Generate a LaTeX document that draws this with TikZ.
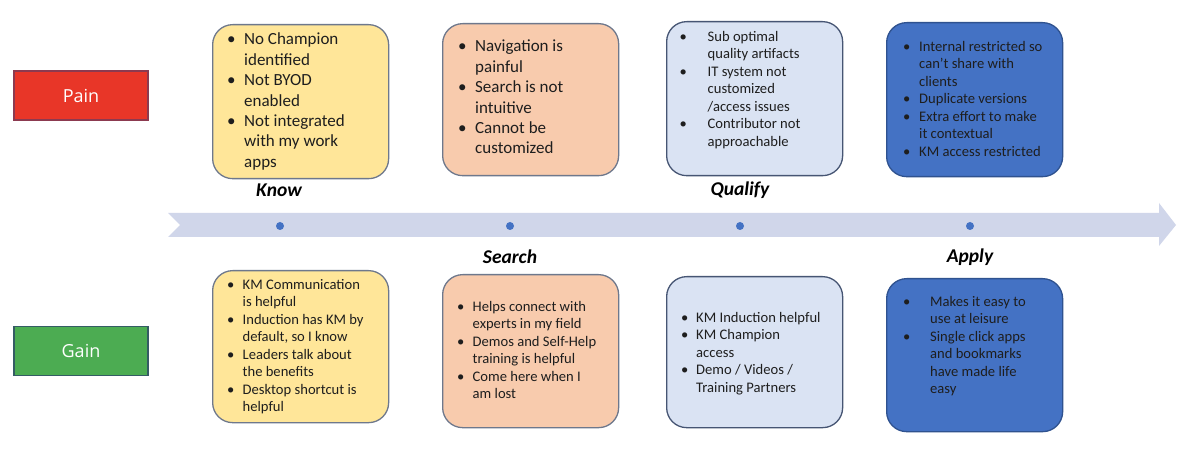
\documentclass[tikz,border=0pt]{standalone}
\usepackage{fontspec}
\setmainfont{Carlito}
\newfontfamily\lblfont{Open Sans}
\usepackage{array}
\definecolor{painred}{RGB}{232,54,40}
\definecolor{painedge}{RGB}{140,58,80}
\definecolor{gaingreen}{RGB}{76,172,82}
\definecolor{gainedge}{RGB}{52,92,100}
\definecolor{cyellow}{RGB}{255,230,153}
\definecolor{cpeach}{RGB}{248,203,173}
\definecolor{clblue}{RGB}{218,227,243}
\definecolor{cblue}{RGB}{68,114,196}
\definecolor{edgegrey}{RGB}{110,120,140}
\definecolor{edgedark}{RGB}{70,85,115}
\definecolor{edgeblue}{RGB}{47,82,143}
\definecolor{band}{RGB}{208,214,234}
\definecolor{dotblue}{RGB}{68,114,196}
\definecolor{txt}{RGB}{30,30,30}
\newcommand{\blist}[2]{\begin{tabular}[t]{@{}p{#1}@{}l@{}}#2\end{tabular}}
\newcommand{\bu}{\textbullet}
\tikzset{
  card/.style={rounded corners=20pt, line width=1.3pt, minimum width=176pt, anchor=north west, inner sep=0pt},
  tag/.style={minimum width=134pt, minimum height=49pt, line width=1.3pt, inner sep=0pt, text=white, font=\lblfont\fontsize{18}{20}\selectfont},
  big/.style={anchor=base west, inner sep=0pt, text=txt, font=\fontsize{17}{20.4}\selectfont},
  small/.style={anchor=base west, inner sep=0pt, text=txt, font=\fontsize{14.6}{17.5}\selectfont},
  stage/.style={inner sep=0pt, text=black, font=\fontsize{19.5}{22}\selectfont\bfseries\itshape},
  dot/.style={circle, fill=dotblue, minimum size=8pt, inner sep=0pt}
}
\begin{document}
\begin{tikzpicture}[x=1pt,y=-1pt]
\useasboundingbox (0,0) rectangle (1200,462);
\fill[white] (0,0) rectangle (1200,462);
% timeline arrow
\fill[band] (168,213) -- (1159,213) -- (1159,203) -- (1176,225) -- (1159,246) -- (1159,237) -- (168,237) -- (180,225) -- cycle;
\node[dot] (d1) at (280,226) {};
\node[dot] (d2) at (510,226) {};
\node[dot] (d3) at (740,226) {};
\node[dot] (d4) at (970,226) {};
% tags
\node[tag, fill=painred, draw=painedge] (pain) at (81,95.5) {Pain};
\node[tag, fill=gaingreen, draw=gainedge] (gain) at (81,351) {Gain};
% pain cards
\node[card, fill=cyellow, draw=edgegrey, minimum height=154pt] (p1) at (212,24) {};
\node[card, fill=cpeach, draw=edgegrey, minimum height=152pt] (p2) at (442,23) {};
\node[card, fill=clblue, draw=edgedark, minimum height=154pt] (p3) at (666,21) {};
\node[card, fill=cblue, draw=edgeblue, minimum height=154pt] (p4) at (886,22) {};
% gain cards
\node[card, fill=cyellow, draw=edgegrey, minimum height=152pt] (g1) at (212,270) {};
\node[card, fill=cpeach, draw=edgegrey, minimum height=153pt] (g2) at (442,274) {};
\node[card, fill=clblue, draw=edgedark, minimum height=151pt] (g3) at (666,276) {};
\node[card, fill=cblue, draw=edgeblue, minimum height=153pt] (g4) at (886,278) {};
% pain texts
\node[big] (tp1) at (227,45) {\blist{17pt}{\bu & No Champion\\ & identified\\ \bu & Not BYOD\\ & enabled\\ \bu & Not integrated\\ & with my work\\ & apps}};
\node[big] (tp2) at (458,52) {\blist{17pt}{\bu & Navigation is\\ & painful\\ \bu & Search is not\\ & intuitive\\ \bu & Cannot be\\ & customized}};
\node[small] (tp3) at (679.5,41.5) {\blist{28pt}{\bu & Sub optimal\\ & quality artifacts\\ \bu & IT system not\\ & customized\\ & /access issues\\ \bu & Contributor not\\ & approachable}};
\node[small] (tp4) at (903,51.5) {\blist{16pt}{\bu & Internal restricted so\\ & can't share with\\ & clients\\ \bu & Duplicate versions\\ \bu & Extra effort to make\\ & it contextual\\ \bu & KM access restricted}};
% gain texts
\node[small] (tg1) at (227,289.5) {\blist{15.5pt}{\bu & KM Communication\\ & is helpful\\ \bu & Induction has KM by\\ & default, so I know\\ \bu & Leaders talk about\\ & the benefits\\ \bu & Desktop shortcut is\\ & helpful}};
\node[small] (tg2) at (457,311.5) {\blist{15.5pt}{\bu & Helps connect with\\ & experts in my field\\ \bu & Demos and Self-Help\\ & training is helpful\\ \bu & Come here when I\\ & am lost}};
\node[small] (tg3) at (681,322.5) {\blist{15pt}{\bu & KM Induction helpful\\ \bu & KM Champion\\ & access\\ \bu & Demo / Videos /\\ & Training Partners}};
\node[small] (tg4) at (903,306.5) {\blist{27pt}{\bu & Makes it easy to\\ & use at leisure\\ \bu & Single click apps\\ & and bookmarks\\ & have made life\\ & easy}};
% stage labels
\node[stage] (know) at (279,190) {Know};
\node[stage] (qual) at (740,190) {Qualify};
\node[stage] (srch) at (510,257) {Search};
\node[stage] (appl) at (970,257) {Apply};
\end{tikzpicture}
\end{document}
